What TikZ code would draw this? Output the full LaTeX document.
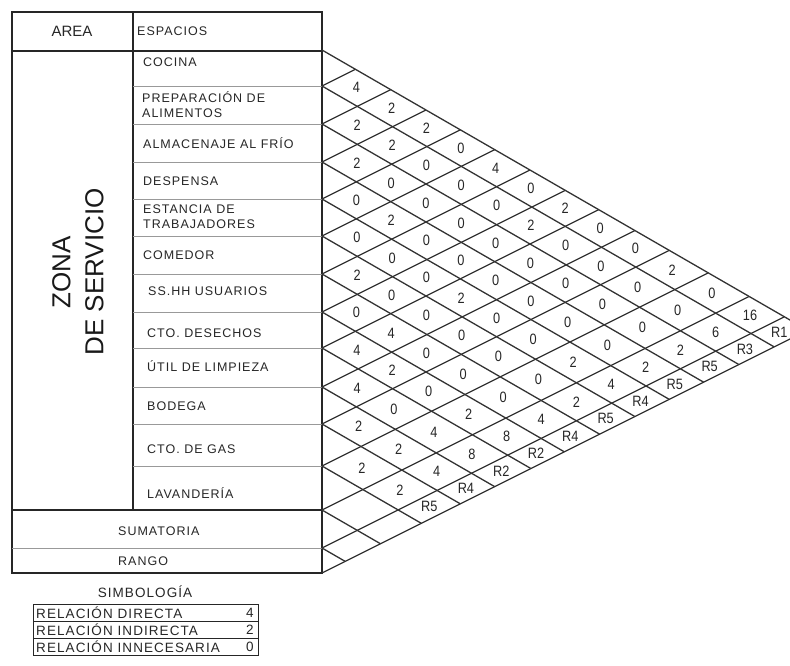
\documentclass[tikz,border=0pt]{standalone}
\usepackage{fontspec}
\setmainfont{Liberation Sans}
\newfontfamily\cadfont[LetterSpace=8]{Liberation Sans}

\begin{document}
\begin{tikzpicture}[x=1pt,y=-1pt,
  tabla/.style={draw=black!85, line width=1.4pt},
  fina/.style={draw=black!40, line width=0.8pt},
  malla/.style={draw=black!80, line width=1.3pt},
  espacio/.style={anchor=west, align=left, inner sep=0pt, text=black!85,
    font=\cadfont\fontsize{12.5}{15}\selectfont},
  leyenda/.style={espacio, font=\cadfont\fontsize{13.5}{15}\selectfont},
  valor/.style={inner sep=0pt, text=black!85, xscale=0.85,
    font=\fontsize{15}{15}\selectfont}]
\useasboundingbox (0,0) rectangle (790,665);
\clip (0,0) rectangle (790,665);

\draw[tabla] (12,12) rectangle (322,573);
\draw[tabla] (12,51) -- (322,51);
\draw[tabla] (12,510) -- (322,510);
\draw[tabla] (133,12) -- (133,510);
\foreach \y in {86,124,162,199,236,274,312,348,387,424,466}
  \draw[fina] (133,\y) -- (322,\y);
\draw[fina] (12,548) -- (322,548);

\node[text=black!85, font=\fontsize{15}{15}\selectfont] (area) at (72,31) {AREA};
\node[espacio] (espacios) at (137,31) {ESPACIOS};
\node[rotate=90, align=center, text=black!90, font=\fontsize{26}{33}\selectfont] (zona) at (78,272) {ZONA\\DE SERVICIO};

\foreach \n/\x/\y/\t in {cocina/143/62/COCINA, prep/142/105/{PREPARACIÓN DE\\ALIMENTOS},
  frio/143/143/ALMACENAJE AL FRÍO, despensa/143/181/DESPENSA,
  estancia/143/217/{ESTANCIA DE\\TRABAJADORES}, comedor/143/255/COMEDOR,
  sshh/148/291/SS.HH USUARIOS, desechos/147/333/CTO. DESECHOS,
  limpieza/147/366/ÚTIL DE LIMPIEZA, bodega/147/406/BODEGA,
  gas/147/449/CTO. DE GAS, lavanderia/147/493/LAVANDERÍA,
  suma/118/531/SUMATORIA, rango/118/561/RANGO}
  \node[espacio] (\n) at (\x,\y) {\t};

\begin{scope}[shift={(322,0)}, x={(-0.9285pt,-0.4643pt)}, y={(0.9285pt,-0.5357pt)}]
\foreach \y in {50,86,124,162,199,236,274,312,348,387,424,466,510,548}
  \draw[malla] (\y,\y) -- (\y,573);
\foreach \y in {86,124,162,199,236,274,312,348,387,424,466,510,548,573}
  \draw[malla] (50,\y) -- (\y,\y);
\def\mids{{68,105,143,180.5,217.5,255,293,330,367.5,405.5,445,488,529,560.5}}
\foreach \a/\b/\v in {0/1/4,0/2/2,0/3/2,0/4/0,0/5/4,0/6/0,0/7/2,0/8/0,0/9/0,0/10/2,0/11/0,0/12/16,0/13/R1,
  1/2/2,1/3/2,1/4/0,1/5/0,1/6/0,1/7/2,1/8/0,1/9/0,1/10/0,1/11/0,1/12/6,1/13/R3,
  2/3/2,2/4/0,2/5/0,2/6/0,2/7/0,2/8/0,2/9/0,2/10/0,2/11/0,2/12/2,2/13/R5,
  3/4/0,3/5/2,3/6/0,3/7/0,3/8/0,3/9/0,3/10/0,3/11/0,3/12/2,3/13/R5,
  4/5/0,4/6/0,4/7/0,4/8/2,4/9/0,4/10/0,4/11/2,4/12/4,4/13/R4,
  5/6/2,5/7/0,5/8/0,5/9/0,5/10/0,5/11/0,5/12/2,5/13/R5,
  6/7/0,6/8/4,6/9/0,6/10/0,6/11/0,6/12/4,6/13/R4,
  7/8/4,7/9/2,7/10/0,7/11/2,7/12/8,7/13/R2,
  8/9/4,8/10/0,8/11/4,8/12/8,8/13/R2,
  9/10/2,9/11/2,9/12/4,9/13/R4,
  10/11/2,10/12/2,10/13/R5}{
  \pgfmathsetmacro\u{\mids[\a]}
  \pgfmathsetmacro\w{\mids[\b]}
  \node[valor] (c\a-\b) at (\u,\w) {\v};
}
\end{scope}

\node[leyenda, anchor=center] (simbologia) at (145,592) {SIMBOLOGÍA};
\draw[fina, draw=black!85] (33,604) rectangle (258,655);
\draw[fina, draw=black!85] (33,621) -- (258,621) (33,638) -- (258,638);
\foreach \n/\y/\t/\v in {directa/612.5/RELACIÓN DIRECTA/4, indirecta/629.5/RELACIÓN INDIRECTA/2,
  innecesaria/646.5/RELACIÓN INNECESARIA/0}{
  \node[leyenda] (\n) at (36,\y) {\t};
  \node[leyenda] (v\n) at (246,\y) {\v};
}
\end{tikzpicture}
\end{document}
